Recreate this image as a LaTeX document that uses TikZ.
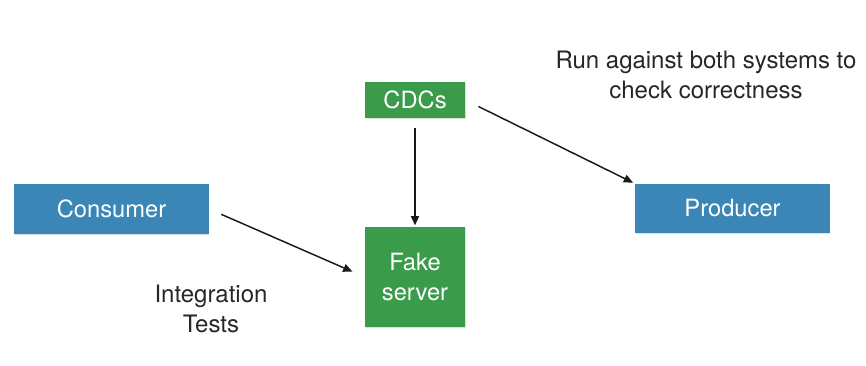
\documentclass[tikz,border=0pt]{standalone}
\usepackage{fontspec}
\setmainfont{TeX Gyre Heros}
\usepackage{tikz}
\usetikzlibrary{arrows.meta,positioning,calc,shadows}
\definecolor{cdcgreen}{HTML}{3A9C4A}
\definecolor{svcblue}{HTML}{3A86B6}
\tikzset{
  bloc/.style={rectangle, draw=none, fill=#1, text=white, align=center,
               font=\fontsize{17.8}{22}\selectfont, inner sep=0pt,
               drop shadow={shadow xshift=0.4pt, shadow yshift=-0.8pt, opacity=0.25}},
  note/.style={align=center, font=\fontsize{18}{22}\selectfont, text=black!85},
  arr/.style={-{Triangle[length=7pt,width=6pt]}, line width=1.1pt, draw=black!90},
}
\begin{document}
\begin{tikzpicture}[x=0.75pt, y=-0.75pt]
  \useasboundingbox (0,0) rectangle (866,366);
  \node[bloc=cdcgreen, minimum width=75pt, minimum height=27pt] (cdc) at (415,100) {CDCs};
  \node[bloc=cdcgreen, minimum width=75pt, minimum height=75pt] (fake) at (415,277) {Fake\\server};
  \node[bloc=svcblue, minimum width=146pt, minimum height=37.5pt] (cons) at (111.5,209) {Consumer};
  \node[bloc=svcblue, minimum width=146pt, minimum height=37pt] (prod) at (732.5,208.5) {Producer};
  \node[note] (run) at (706,75) {Run against both systems to\\check correctness};
  \node[note] (integ) at (211,309) {Integration\\Tests};
  \draw[arr, shorten <=7pt, shorten >=1pt] (cdc) -- (fake);
  \draw[arr, shorten <=10pt, shorten >=10pt] (cons.east) -- (fake.west);
  \draw[arr, shorten <=11pt, shorten >=1.5pt] (cdc.east) -- (prod.north west);
\end{tikzpicture}
\end{document}
